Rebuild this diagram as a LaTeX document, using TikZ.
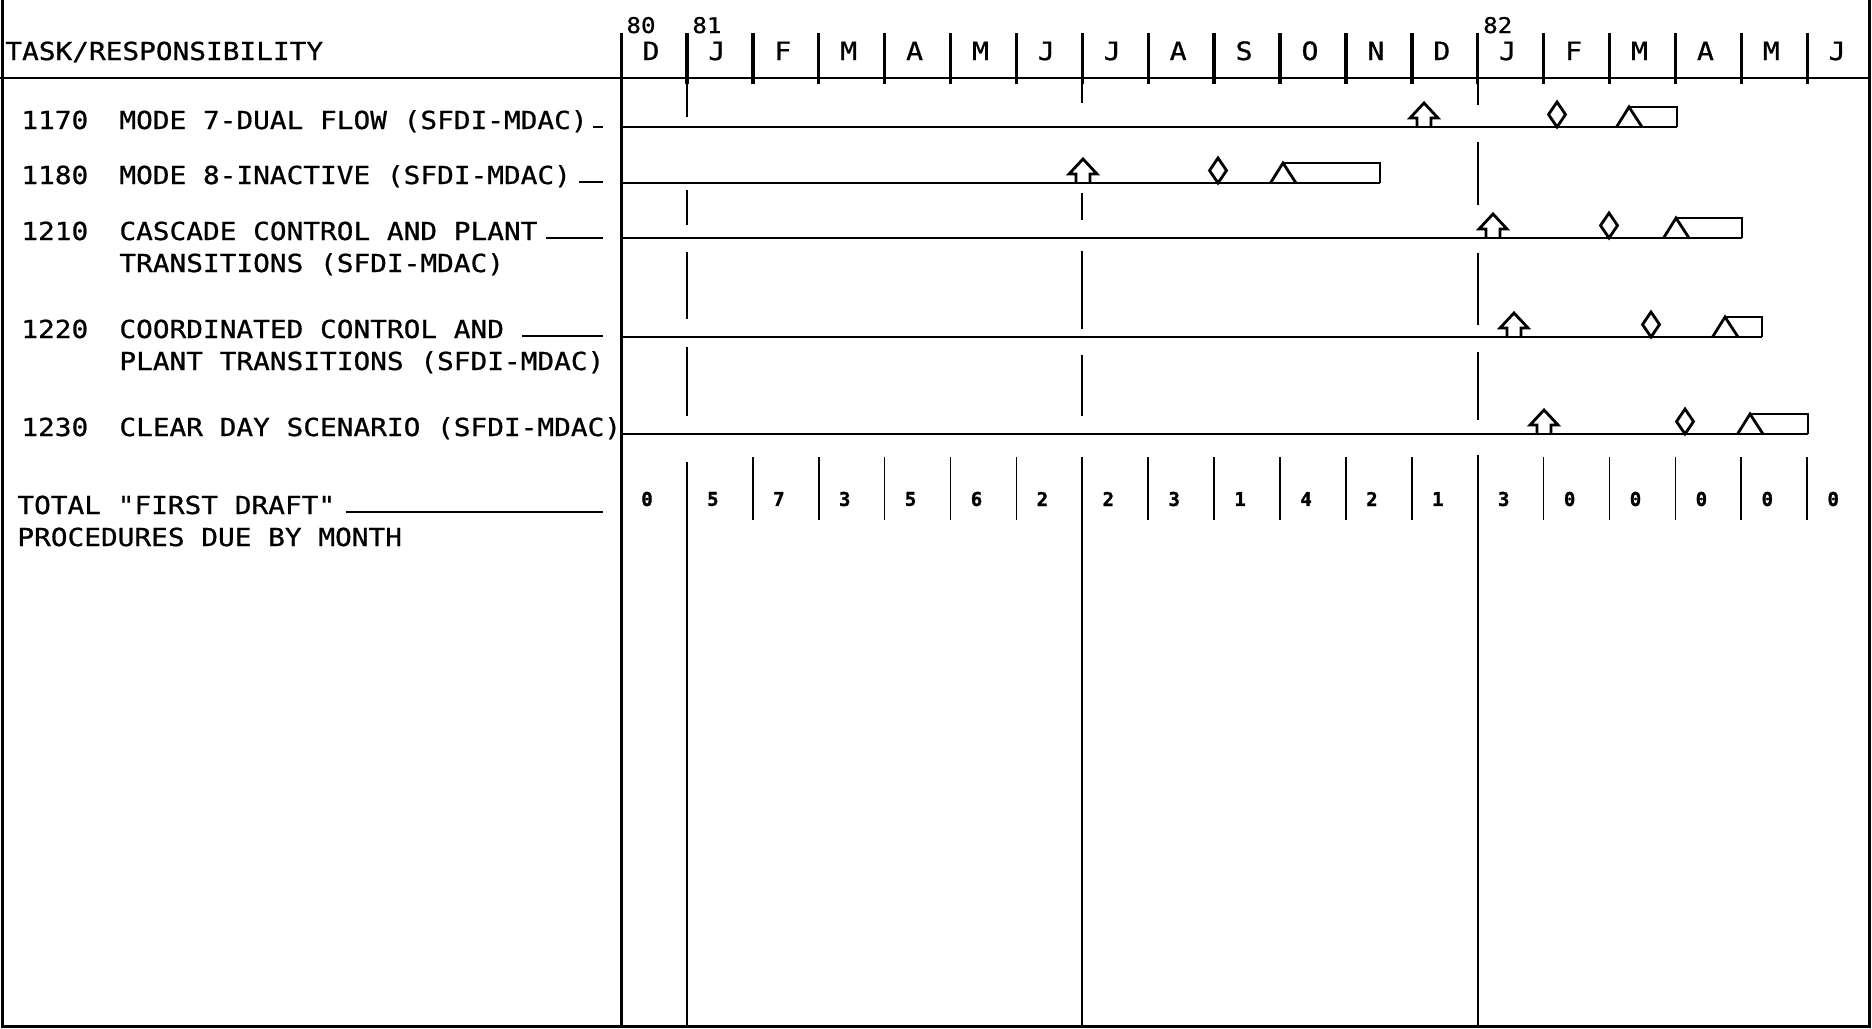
\documentclass[tikz,border=0pt]{standalone}
\usepackage{fontspec}
\newfontfamily\plotfont[FakeStretch=1.12,FakeBold=0.8]{DejaVu Sans Mono}
\newfontfamily\countfont[FakeBold=1.5]{DejaVu Sans Mono Bold}
\usetikzlibrary{positioning,calc}

\tikzset{
  startmark/.pic={\draw[marker] (-7,0) -- (-7,-9) -- (-14,-9) -- (0,-24) -- (14,-9) -- (7,-9) -- (7,0);},
  reviewmark/.pic={\draw[marker] (0,0) -- (-8.5,-12.5) -- (0,-25) -- (8.5,-12.5) -- cycle;}
}

\begin{document}
\begin{tikzpicture}[x=0.5pt, y=-0.5pt,
  frame/.style={line width=1.5pt},
  rowline/.style={line width=1.35pt},
  tick/.style={line width=1.7pt},
  gridline/.style={line width=0.85pt},
  marker/.style={line width=1.4pt, line join=miter},
  task/.style={font=\plotfont\fontsize{12.4}{16}\selectfont, anchor=base west, inner sep=0pt},
  month/.style={font=\plotfont\fontsize{12.6}{16}\selectfont, anchor=base, inner sep=0pt},
  year/.style={font=\plotfont\fontsize{10.8}{12}\selectfont, anchor=base, inner sep=0pt},
  count/.style={font=\countfont\fontsize{9.5}{10}\selectfont, inner sep=0pt}
]
  \useasboundingbox (0,0) rectangle (1872,1028);

  % frame and header
  \draw[frame] (2,0) -- (2,1026) -- (1869,1026) -- (1869,0);
  \draw[rowline] (0,78) -- (1869,78);
  \draw[frame] (621,33) -- (621,1026);
  \coordinate (lead) at (603,0);

  \node[task] (title) at (5,60) {TASK/RESPONSIBILITY};

  % months
  \foreach \m [count=\k from 0] in {D,J,F,M,A,M,J,J,A,S,O,N,D,J,F,M,A,M,J}
    \node[month] (m\k) at (621+65.9*\k+30,60) {\m};
  \node[year] (y80) at (621+20,33) {80};
  \node[year] (y81) at (621+65.9+20,33) {81};
  \node[year] (y82) at (621+65.9*13+20,33) {82};
  \foreach \k in {1,...,18}
    \draw[tick] (621+65.9*\k,33) -- (621+65.9*\k,84);

  % half-year lines
  \foreach \k/\a/\b/\c/\d/\e/\f/\g/\h in {1/117/190/225/252/319/347/416/462,
      7/103/193/220/251/329/355/416/457, 13/105/142/205/253/325/352/420/455}
  {
    \draw[gridline] (621+65.9*\k,84) -- (621+65.9*\k,\a);
    \draw[gridline] (621+65.9*\k,\b) -- (621+65.9*\k,\c);
    \draw[gridline] (621+65.9*\k,\d) -- (621+65.9*\k,\e);
    \draw[gridline] (621+65.9*\k,\f) -- (621+65.9*\k,\g);
    \draw[gridline] (621+65.9*\k,\h) -- (621+65.9*\k,1026);
  }

  % tasks
  \node[task] (n1170) at (21,129) {1170};
  \node[task] (d1170) at (119,129) {MODE 7-DUAL FLOW (SFDI-MDAC)};
  \node[task] (n1180) at (21,184) {1180};
  \node[task] (d1180) at (119,184) {MODE 8-INACTIVE (SFDI-MDAC)};
  \node[task] (n1210) at (21,240) {1210};
  \node[task] (d1210) at (119,240) {CASCADE CONTROL AND PLANT};
  \node[task] (e1210) at (119,272) {TRANSITIONS (SFDI-MDAC)};
  \node[task] (n1220) at (21,338) {1220};
  \node[task] (d1220) at (119,338) {COORDINATED CONTROL AND};
  \node[task] (e1220) at (119,370) {PLANT TRANSITIONS (SFDI-MDAC)};
  \node[task] (n1230) at (21,436) {1230};
  \node[task] (d1230) at (119,436) {CLEAR DAY SCENARIO (SFDI-MDAC)};
  \node[task] (total) at (17,514) {TOTAL "FIRST DRAFT"};
  \node[task] (total2) at (17,546) {PROCEDURES DUE BY MONTH};

  % leaders
  \foreach \n/\g in {d1170/2.5pt, d1180/4pt, d1210/4pt, d1220/9pt, total/5pt}
    \draw[gridline] ([xshift=\g,yshift=1pt]\n.base east) -- ([yshift=1pt]\n.base east -| lead);

  % bars
  \foreach \id/\y/\a/\d/\t/\e in {1170/127/1424/1557/1629/1677, 1180/183/1083/1218/1283/1380,
      1210/238/1493/1609/1676/1742, 1220/337/1514/1651/1725/1762, 1230/434/1544/1685/1750/1808}
  {
    \coordinate (s\id) at (621,\y);
    \coordinate (f\id) at (\e,\y);
    \draw[rowline] (s\id) -- (f\id);
    \pic at (\a,\y) {startmark};
    \pic at (\d,\y) {reviewmark};
    \draw[marker] (\t-12.5,\y) -- (\t,\y-20) -- (\t+13,\y);
    \draw[marker] (\t,\y-20) -- (\e,\y-20) -- (f\id);
  }

  % monthly totals
  \foreach \k in {2,...,6,8,9,...,12,14,15,...,18}
    \draw[gridline] (621+65.9*\k,457) -- (621+65.9*\k,520);
  \foreach \c [count=\k from 0] in {0,5,7,3,5,6,2,2,3,1,4,2,1,3,0,0,0,0,0}
    \node[count] (c\k) at (621+65.9*\k+26,499) {\c};
\end{tikzpicture}
\end{document}
